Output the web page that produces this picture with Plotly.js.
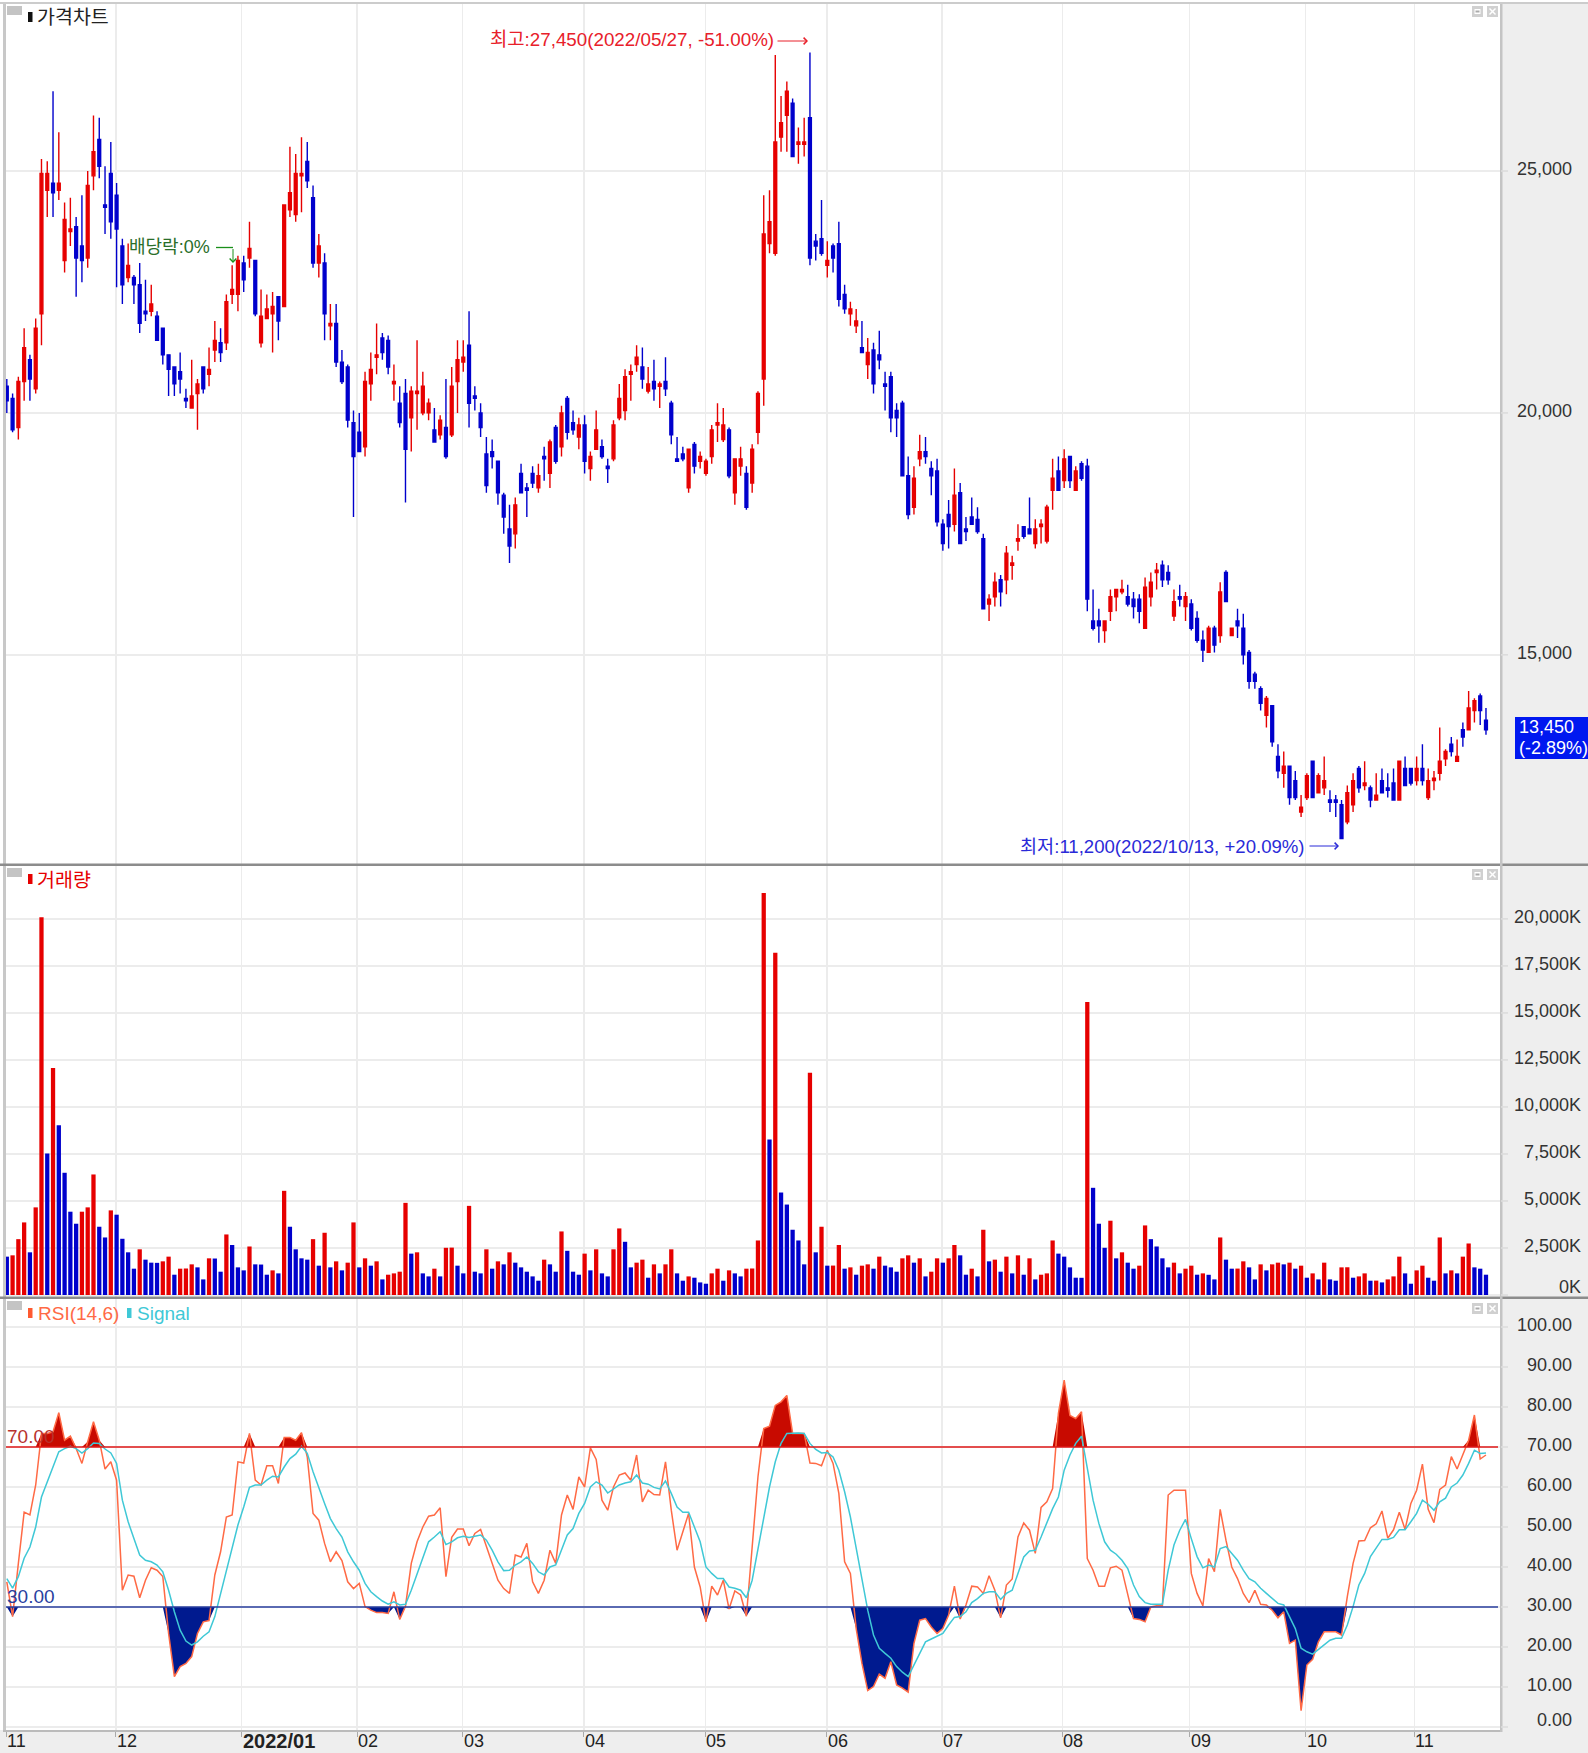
<!DOCTYPE html>
<html>
<head>
<meta charset="utf-8">
<script src="https://cdn.plot.ly/plotly-3.0.1.min.js"></script>
<style>html,body{margin:0;padding:0;background:#fff}</style>
</head>
<body>
<div id="chart" style="width:1588px;height:1753px"></div>
<script>
// bar index where each month label sits
var monthPos = [-0.1,18.85,40.65,60.65,78.87,99.86,120.9,141.9,161.9,182.7,204.7,224.8,243.6];
var monthLabels = ["11","12","<b>2022/01</b>","02","03","04","05","06","07","08","09","10","11"];

var opens = [
20550,20300,19700,20650,21100,20500,22050,24600,24750,24600,
23150,23750,23850,23450,23200,24900,25650,24300,24950,24500,
23450,22800,22800,22650,22100,22100,22000,21750,21200,20950,
20850,20300,20100,20400,20950,20800,21300,21450,21450,22450,
22450,23100,23200,23150,21450,21950,22050,22400,22200,24200,
24100,24900,25200,24450,23100,23100,21800,21850,21050,20950,
19800,19600,19300,20600,21150,21550,21500,20600,20200,20400,
19900,20400,20000,20000,19650,19550,19700,19550,20650,21050,
21400,20350,20000,19150,19200,19000,18300,17600,17500,18750,
18450,18750,18450,19100,18750,19700,19300,20300,19800,19500,
19750,18850,19250,19300,18900,19050,19900,20050,20800,21000,
20950,20450,20650,20550,20650,20200,19050,19150,18450,19350,
19000,18750,19100,19750,19450,19650,18350,18900,18750,18550,
19600,20700,23500,23300,25700,26150,26400,25550,25550,26100,
23550,23600,23050,23450,23500,22450,22050,21800,21350,21000,
21300,21200,20600,20750,20050,20200,18700,18050,19050,19200,
18850,18800,17700,17900,17700,18350,17600,17850,17800,17400,
16050,16200,16550,16550,16850,17350,17650,17600,17300,17650,
17350,18400,18800,18600,19100,18400,18950,18900,15700,15700,
15500,15900,16200,16300,16200,16150,16150,15550,16200,16700,
16850,16700,15800,16200,16000,16050,15750,15300,15050,15550,
15400,16700,15400,15700,15550,15050,14600,14300,13750,13950,
12900,12550,12700,12400,11750,12050,12800,12150,12250,12000,
12000,11900,11550,11900,12650,12300,12250,12000,12400,12250,
12350,12000,12650,12650,12400,12650,12050,12400,12550,12850,
13150,12800,13450,13450,13850,14150,13650];

var highs = [
20700,20400,20750,21750,21200,21950,25250,25200,26650,25800,
24350,24450,24050,24500,25000,26150,26100,25100,25600,24750,
23600,23500,22850,23100,22750,22650,22100,21750,21200,20950,
21250,20500,21100,20700,20950,21350,21900,21750,22450,23050,
23250,23250,23950,23150,22550,22450,22500,22400,24300,25500,
25350,25700,25600,24700,23700,23300,22250,22250,21300,21000,
20050,20000,20850,21250,21850,21650,21600,21000,20550,20700,
20550,21500,20850,20300,20100,19950,20700,20950,21500,21500,
22100,20550,20200,19500,19450,19000,18350,18100,18250,18950,
18550,18900,18950,19300,19450,19750,20150,20350,20050,19900,
19950,19200,20050,19450,19050,19850,20600,20900,21000,21400,
21350,20950,21100,20650,21150,20250,19500,19300,19250,19400,
19200,19050,19750,20200,20100,19700,19050,19300,18900,19350,
20450,24500,24600,27400,26550,26850,26500,25900,26100,27450,
23700,24400,23550,23500,23950,22650,22300,22150,21900,21550,
21450,21700,20850,20850,20200,20250,19100,18900,19550,19500,
19000,19050,17800,18200,18850,18550,17850,18250,18050,17500,
16250,16700,16650,17250,17050,17700,17650,18250,17800,17800,
18100,19050,19100,19250,19100,18900,19000,19050,16350,15950,
15700,16350,16350,16550,16450,16300,16250,16600,16700,16900,
16950,16850,16350,16450,16300,16150,15900,15500,15600,15600,
16500,16750,15550,15950,15850,15100,14650,14350,14150,13950,
13150,13000,12700,12600,12100,12550,12800,12550,12900,12200,
12100,12000,12300,12550,12700,12800,12300,12550,12650,12550,
12650,12800,12900,12650,12900,13150,12650,12600,13500,13050,
13300,13250,13600,14250,14100,14200,13900];

var lows = [
20000,19600,19450,20250,20250,20400,21400,24050,24050,24400,
22900,23450,22400,22700,23000,24600,24850,23700,23600,22600,
22250,22700,22250,21650,21900,22000,21500,21000,20350,20350,
20400,20100,20100,19650,20400,20550,21050,21050,21300,22250,
22100,22500,23000,22000,21350,21950,21250,21500,22200,24050,
23950,24150,24650,23000,22800,21500,21500,20950,20600,19700,
17850,19200,19100,20250,20800,21100,20800,20250,19700,18150,
19200,19650,19950,19850,19400,19450,19050,19500,20000,20850,
19700,20050,19500,18350,18850,18100,17500,16900,17200,18350,
17850,18450,18350,18600,18450,18950,19100,19450,19550,19250,
18750,18600,19250,19050,18550,19000,19850,19850,20250,20850,
20500,20400,20250,20100,20350,19350,19000,19000,18350,18750,
18850,18700,18950,19400,19400,18650,18100,18700,18000,18350,
19350,20150,23300,23250,25400,25400,25300,25150,25300,23050,
23150,23250,22800,22900,22200,22050,21800,21650,21250,20700,
20400,20900,20050,19600,19500,18700,17800,17900,18900,18950,
18300,17650,17150,17200,17550,17300,17350,17700,17500,15950,
15700,16000,16000,16250,16550,17150,17400,17500,17200,17300,
17300,18000,18400,18450,18450,18400,18600,15900,15500,15250,
15250,15700,15900,16250,16000,15750,15650,15550,16000,16350,
16400,16450,15700,16000,15700,15500,15250,14850,15050,15050,
15250,16100,15400,15350,14800,14300,14300,13850,13500,13100,
12450,12250,11900,12000,11650,12000,12050,12150,12100,11750,
11650,11200,11500,11750,12150,12200,11850,12000,12150,12050,
12000,12000,12300,12300,12300,12300,12000,12200,12400,12700,
12900,12800,13100,13450,13600,13550,13350];

var closes = [
20250,19650,20650,21350,20700,21750,24950,24950,24550,24750,
24000,23800,23200,23150,24700,25400,25100,24250,23950,23800,
22650,23050,22650,21850,22050,22250,21500,21200,20900,20600,
20700,20250,20350,20600,20500,20900,21500,21250,22300,22550,
23150,22750,23400,22050,22000,22150,22200,21900,24300,24550,
24950,24950,24800,23100,23450,22050,21850,21050,20650,19850,
19100,19200,20650,20900,21200,21250,20950,20650,19800,19250,
20450,20450,20550,20200,19400,19850,19100,20550,21100,21150,
20200,20300,19700,18500,19100,18350,17850,17250,18100,18350,
18400,18550,18700,19050,19400,19000,20000,19600,19650,19750,
19000,19100,19650,19100,18850,19750,20300,20750,20850,21150,
20700,20600,20500,20600,20500,19550,19000,19050,19250,18900,
19100,19000,19650,19800,19750,18700,19050,19050,18050,19250,
20400,23700,23950,25600,26000,26650,25300,25600,25600,23200,
23450,23300,23150,23200,22350,22150,22150,21900,21250,21250,
20600,21100,20550,19900,19900,18700,17900,18650,19200,19100,
18700,17750,17300,17650,18300,17300,17550,17700,17550,15950,
16150,16500,16300,17100,16900,17400,17450,17500,17600,17700,
18050,18650,18400,19050,18600,18800,18650,16150,15550,15600,
15700,16200,16350,16350,16050,16000,15900,16400,16500,16750,
16550,16550,16100,16150,16200,15550,15300,15100,15550,15200,
16300,16100,15550,15600,15000,14450,14450,14000,14100,13200,
12600,12700,12050,12050,11850,12500,12050,12500,12400,11950,
11950,11200,12150,12400,12250,12350,12000,12100,12150,12200,
12000,12800,12300,12350,12650,12400,12400,12450,12800,13000,
13000,12900,13300,13900,14050,13850,13450];

// volume in thousands of shares
var volumes = [
2040,2110,2970,3860,2270,4660,20090,7520,12070,9030,
6500,4430,3790,4430,4660,6410,3630,3060,4500,4270,
2990,2270,1400,2430,1880,1720,1710,1790,2040,1080,
1400,1410,1630,1470,830,1950,1940,1240,3220,2660,
1470,1310,2580,1630,1620,1080,1310,1150,5540,3630,
2430,1950,1880,2970,1560,3310,1470,1790,1310,1720,
3860,1470,1950,1560,1790,830,1080,1150,1240,4900,
2200,2270,1150,990,1400,990,2510,2520,1560,1150,
4740,1240,1150,2430,1400,1790,1630,2270,1720,1470,
1240,990,760,1880,1630,1240,3380,2350,1240,1080,
2200,1310,2430,1150,990,2430,3540,2830,1470,1720,
1880,920,1630,1150,1630,2430,1150,760,990,920,
670,600,1150,1400,760,1310,1150,990,1400,1410,
2900,21380,8270,18200,5450,4810,3470,2900,1630,11820,
2270,3630,1560,1565,2660,1400,1470,1080,1560,1630,
1400,2040,1560,1470,1240,1950,2110,1720,1950,990,
1240,1950,1720,1950,2660,2110,1080,1400,990,3470,
1790,1880,1240,2040,1150,2110,1080,1950,830,1080,
1150,2900,2200,2040,1470,920,915,15580,5700,3790,
2510,3950,1950,2270,1720,1400,1560,3700,2970,2580,
1950,1470,1720,1150,1400,1560,1080,1150,1075,830,
3060,1880,1400,1405,1790,1470,830,1630,1310,1630,
1720,1630,1720,1400,1560,920,1150,830,1720,830,
760,1470,1475,920,990,1150,760,765,670,830,
990,2040,1150,600,1310,1560,920,760,3060,1150,
1310,1150,2040,2740,1470,1400,1080];

var rsi = [
36.3,27.6,40.9,53.7,53,60.5,73.4,73.4,73.8,78.6,
71.7,72.7,69.6,65.9,71.3,76.3,71.7,64.5,66.3,61.7,
34.2,38,37.7,32.3,36.7,39.8,39.2,37.6,23.4,12.6,
15.1,15.9,17.6,23.4,26.3,26.6,38,43.8,52.5,53,
66.3,66,73.4,61.7,60.5,65.3,65.3,60.9,72.4,72.4,
71.7,73.6,67.5,53.4,51.7,45.9,41.3,43.8,41.6,36.3,
34.6,35.9,30.1,29.2,28.6,28.6,28.4,33.8,26.9,30.2,
40.9,46.3,50,52.7,53,54.8,37.6,47.4,49.5,49.5,
45.3,48.4,49.4,45.3,40.9,36.7,34.6,33.4,43,42.5,
45.9,36.3,33.4,36.7,44.2,40.9,53,58,54.4,62.5,
60,69.8,66.9,56.7,54.2,60,63,63.5,61.7,68,
56.3,59.2,58.1,58,66.3,54.2,44.2,48.8,53.4,40,
35,26.3,35.2,33,36.7,29.5,34,33,27.7,45,
62.5,74.6,75.2,80.4,81.3,82.9,73.4,73.4,73.4,66,
65.9,65.3,69.2,65.9,58.4,41.3,38.4,24.6,15.9,9.1,
10.1,13.2,12.2,16.3,10.5,9.7,8.7,20.9,26.7,27.1,
25,23.4,24.6,28,35.2,27,30.5,35.2,35,33.4,
37.8,34.2,27.3,35.5,37,47.5,51,49.2,43.4,54.9,
56.3,59.6,78.4,86.7,77.9,77.1,78.8,42.1,39.2,35.2,
35.2,39.8,40.2,39.2,33.4,27.1,26.9,26.3,30,30.3,
30.3,58,59.2,59.2,59.2,38.4,33.4,30.3,42.1,38.8,
54.4,46.7,40,37.1,33.4,31.1,34.2,30.7,30.5,29.2,
27.3,28.8,20.9,21.7,4.1,15.5,16.9,21.3,23.8,23.8,
23.8,23,32.6,40.9,46.5,46.6,49.8,50.8,54,47.2,
49.3,53.7,49.4,55.9,59.2,65.7,54.4,51.1,59.4,60.5,
67.6,64.5,68,71.7,78,67,68];

var signal = [
37.1,34.7,37.6,42.2,45,50,57.5,61.3,65.4,68.8,
69.6,70.2,69.6,68.5,69.6,71,70.9,69.5,68.5,65.9,
56.7,51.3,47.1,43,41.7,41.3,40.5,38.8,34.2,28.8,
24.2,21.5,20.5,21.3,22.7,23.8,27.6,33.4,39.2,45.1,
50.5,55,59.9,60.5,60.5,61.7,62.7,62.5,65,67.1,
68.2,70.2,68.4,63.8,59.6,55.9,52.1,49.6,47.5,43.8,
41.3,39.2,35.9,33.8,32.6,31.5,30.7,31.3,30.5,30.7,
34.2,38.4,42.1,46.3,47.5,48.8,45.6,46.3,47.3,47.7,
47.4,47.7,48,46.7,44.2,41.3,39.1,39.2,40.5,41.3,
42.5,40.9,38.8,38,40,40.5,44.2,48,49.6,53.4,
55.9,60,61.3,60.5,58.5,59.4,60.5,61,61.3,63,
61,60.7,59.9,59.5,61.5,58.4,55,53.7,53.7,50,
46.3,40,38.4,37.1,37.1,35,34.7,34.2,32.3,36.7,
44.6,52.5,60,66.3,70.9,73.4,73.5,73.5,73.4,70.9,
69.4,68.5,68.6,67.5,64.2,58.8,52.5,45,36.7,29.2,
23,19.7,18.4,17.2,15.1,13.7,12.6,15.5,18.4,21.3,
22,22.6,23.4,25.5,27.4,27.6,28.8,31.1,32.1,33.4,
33.8,33.8,31.9,33.4,34.2,38.4,42.5,44,44.2,47.5,
50.9,54.6,57.5,64.2,68,70.9,72.7,64.2,56.7,50.9,
46.3,44.2,43.2,41.7,39.6,35.5,32.6,31.1,30.7,30.7,
30.7,39.2,45.5,49.2,51.9,47.1,42.6,39.8,40.5,40,
44.6,45.1,43.4,41.7,39.2,37.1,36.3,34.7,33.4,32.1,
30.9,30.5,27.6,24.6,19.7,18.8,18.2,19.3,20.5,21.7,
22.2,22.2,25.5,30.1,35.5,38.4,42.6,44.7,46.9,46.9,
47.4,49.3,49.3,51.3,53.4,56.7,55.7,54.2,56.3,57.2,
60,61,63,65.9,69.2,68.4,68.5];

var RED = "#e60000", BLUE = "#0000cc";
var FONT = "'Liberation Sans','Noto Sans CJK KR',sans-serif";

var bars = opens.map(function (v, i) { return i; });

// pixel position on the page -> paper coordinate
function fx(px) { return px / 1588; }
function fy(py) { return 1 - py / 1753; }

var candles = {
    type: "candlestick", x: bars, open: opens, high: highs, low: lows, close: closes,
    xaxis: "x", yaxis: "y", whiskerwidth: 0, line: {width: 1.4},
    increasing: {line: {color: RED, width: 1.4}, fillcolor: RED},
    decreasing: {line: {color: BLUE, width: 1.4}, fillcolor: BLUE},
    hoverinfo: "skip", showlegend: false
};

var volColors = volumes.map(function (v, i) {
    return (i > 0 && v >= volumes[i - 1]) ? RED : BLUE;
});
var volBars = {
    type: "bar", x: bars, y: volumes, xaxis: "x", yaxis: "y2", width: 0.74,
    marker: {color: volColors, line: {width: 0}}, hoverinfo: "skip", showlegend: false
};

function level(val) { return bars.map(function () { return val; }); }
function rsiTrace(y, extra) {
    return Object.assign({type: "scatter", mode: "lines", x: bars, y: y, xaxis: "x", yaxis: "y3",
        hoverinfo: "skip", showlegend: false}, extra);
}
var noLine = {line: {width: 0, color: "rgba(0,0,0,0)"}};

var data = [
    candles, volBars,
    rsiTrace(level(70), noLine),
    rsiTrace(rsi.map(function (v) { return Math.max(v, 70); }),
        {line: {width: 0, color: "rgba(0,0,0,0)"}, fill: "tonexty", fillcolor: "#c80a00"}),
    rsiTrace(level(30), noLine),
    rsiTrace(rsi.map(function (v) { return Math.min(v, 30); }),
        {line: {width: 0, color: "rgba(0,0,0,0)"}, fill: "tonexty", fillcolor: "#001a8f"}),
    rsiTrace(rsi, {line: {color: "#ff6a45", width: 1.5}}),
    rsiTrace(signal, {line: {color: "#3fc8d6", width: 1.5}})
];

function yAxis(top, bottom, range, labelRight, extra) {
    return Object.assign({
        domain: [fy(bottom), fy(top)], range: range, anchor: "free", position: fx(labelRight),
        side: "right", ticklabelposition: "inside", ticklabelshift: -2, ticks: "", showline: false, zeroline: false,
        gridcolor: "#ececec", gridwidth: 1.6,
        tickfont: {family: FONT, size: 18, color: "#333"}
    }, extra);
}

var priceTicks = [15000, 20000, 25000];
var volTicks = [0, 2500, 5000, 7500, 10000, 12500, 15000, 17500, 20000];
var volLabels = ["0K", "2,500K", "5,000K", "7,500K", "10,000K", "12,500K", "15,000K", "17,500K", "20,000K"];
var rsiTicks = [0, 10, 20, 30, 40, 50, 60, 70, 80, 90, 100];

var layout = {
    width: 1588, height: 1753, margin: {l: 0, r: 0, t: 0, b: 0}, autosize: false,
    paper_bgcolor: "#eeeeee", plot_bgcolor: "#ffffff", showlegend: false,
    bargap: 0.25,
    xaxis: {
        domain: [fx(6), fx(1501)], range: [-0.14, 258.6], anchor: "y3",
        tickmode: "array", tickvals: monthPos, showticklabels: false,
        ticks: "outside", ticklen: 6, tickcolor: "#aaa",
        gridcolor: "#ececec", gridwidth: 1.6, zeroline: false, showline: false,
        rangeslider: {visible: false}, fixedrange: true
    },
    yaxis: yAxis(3, 864, [10676, 28473], 1575, {tickmode: "array", tickvals: priceTicks, tickformat: ",d"}),
    yaxis2: yAxis(866, 1297, [-106, 22812], 1584, {tickmode: "array", tickvals: volTicks, ticktext: volLabels}),
    yaxis3: yAxis(1298, 1730, [-0.75, 107.25], 1575, {tickmode: "array", tickvals: rsiTicks, tickformat: ".2f"}),
    shapes: [],
    annotations: []
};

function rect(x0, y0, x1, y1, color) {
    layout.shapes.push({type: "rect", xref: "paper", yref: "paper", layer: "above",
        x0: fx(x0), x1: fx(x1), y0: fy(y0), y1: fy(y1), fillcolor: color, line: {width: 0}});
}
function seg(x0, y0, x1, y1, color, w) {
    layout.shapes.push({type: "line", xref: "paper", yref: "paper", layer: "above",
        x0: fx(x0), x1: fx(x1), y0: fy(y0), y1: fy(y1), line: {color: color, width: w}});
}
function note(text, x, y, color, size, anchor, family) {
    layout.annotations.push({text: text, xref: "paper", yref: "paper", x: fx(x), y: fy(y),
        xanchor: anchor || "left", yanchor: "middle", showarrow: false, borderpad: 0,
        font: {family: family || FONT, size: size || 18, color: color}});
}
function arrow(x0, y0, x1, y1, color) {
    layout.annotations.push({xref: "paper", yref: "paper", axref: "pixel", ayref: "pixel",
        x: fx(x1), y: fy(y1), ax: x0 - x1, ay: y0 - y1, text: "", showarrow: true,
        arrowhead: 4, arrowsize: 1.3, arrowwidth: 1, arrowcolor: color});
}

// frame of the panels
rect(0, 0, 3, 1730, "#ffffff");
rect(3, 0, 6, 1730, "#c8c8c8");
rect(0, 0, 1588, 2, "#ffffff");
rect(0, 2, 1588, 4, "#cccccc");
rect(0, 863.5, 1588, 866, "#8c8c8c");
rect(0, 1296.5, 1588, 1299, "#8c8c8c");
rect(3, 1730, 1501, 1732, "#bbbbbb");
rect(1500, 4, 1502.5, 1732, "#c4c4c4");

// small ticks next to the value labels
function sideTicks(axis, vals) {
    vals.forEach(function (v) {
        layout.shapes.push({type: "line", xref: "paper", yref: axis, layer: "above",
            x0: fx(1501), x1: fx(1508), y0: v, y1: v, line: {color: "#dcdcdc", width: 1.6}});
    });
}
sideTicks("y", priceTicks);
sideTicks("y2", volTicks);
sideTicks("y3", rsiTicks);

// the axis hides its lowest label at the panel edge, the reference lifts it instead
note("0K", 1582, 1287, "#333", 18, "right");
note("0.00", 1573, 1720, "#333", 18, "right");

// RSI guide lines
[[70, "#e01818"], [30, "#2a3f9f"]].forEach(function (g) {
    layout.shapes.push({type: "line", xref: "paper", yref: "y3", layer: "above",
        x0: fx(6), x1: fx(1498), y0: g[0], y1: g[0], line: {color: g[1], width: 1.6}});
});
note("70.00", 6, 1436, "#b8322e", 19);
note("30.00", 6, 1596, "#2a3f9f", 19);

// panel headers and window buttons
[[6, "가격차트", "#222", "#111"], [868, "거래량", RED, RED]].forEach(function (p) {
    rect(7, p[0], 22, p[0] + 9, "#c4c4c4");
    rect(28, p[0] + 6, 32.5, p[0] + 16, p[3]);
    note(p[1], 36, p[0] + 10, p[2], 19.5, "left", "'Noto Sans CJK KR',sans-serif");
});
rect(7, 1301, 22, 1310, "#c4c4c4");
rect(28, 1308, 32.5, 1318, "#ff5a30");
note("RSI(14,6)", 37, 1313, "#ff6a45", 19);
rect(127, 1308, 131.5, 1318, "#3fc8d6");
note("Signal", 136, 1313, "#3fc8d6", 19);
[6, 869, 1303].forEach(function (y) {
    rect(1472, y, 1483, y + 11, "#d0d0d0");
    rect(1474.5, y + 3, 1480.5, y + 8, "#ffffff");
    rect(1475.5, y + 4.5, 1479.5, y + 6.5, "#aaaaaa");
    rect(1487, y, 1498, y + 11, "#d0d0d0");
    seg(1489.5, y + 2.5, 1495.5, y + 8.5, "#ffffff", 1.4);
    seg(1489.5, y + 8.5, 1495.5, y + 2.5, "#ffffff", 1.4);
});

// month labels
monthLabels.forEach(function (m, i) {
    layout.annotations.push({text: m, xref: "x", yref: "paper", x: monthPos[i], y: fy(1741),
        xanchor: "left", yanchor: "middle", xshift: 0, showarrow: false, borderpad: 0,
        font: {family: FONT, size: i === 2 ? 20 : 18, color: "#222"}});
});

// chart notes
note("최고:27,450(2022/05/27, -51.00%)", 775, 40, "#e8202a", 18.8, "right");
arrow(776, 41, 808, 41, "#e8202a");
note("최저:11,200(2022/10/13, +20.09%)", 1306, 846, "#2a2ad8", 18.6, "right");
arrow(1308, 846, 1339, 846, "#2a2ad8");
note("배당락:0%", 128, 247, "#2a6e2a", 18);
seg(216, 247.5, 233, 247.5, "#1a8f1a", 1.3);
arrow(233, 247.5, 233, 263, "#1a8f1a");

// current price tag
rect(1515, 717, 1588, 759, "#0018f0");
note("13,450", 1518, 727, "#ffffff", 18);
note("(-2.89%)", 1518, 748, "#ffffff", 18);

Plotly.newPlot("chart", data, layout, {displayModeBar: false, staticPlot: true});
</script>
</body>
</html>
